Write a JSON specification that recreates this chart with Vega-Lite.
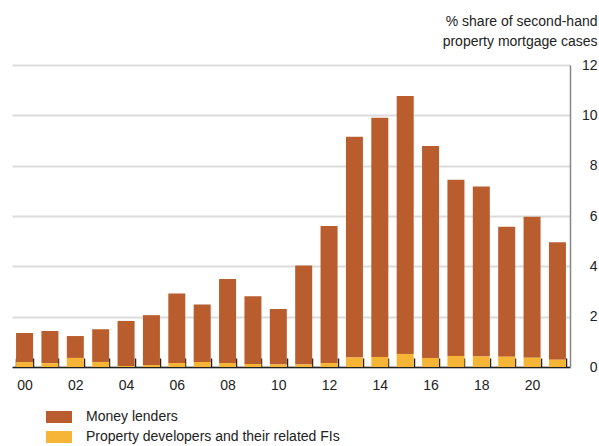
{
  "$schema": "https://vega.github.io/schema/vega-lite/v6.json",
  "width": 558,
  "height": 302,
  "autosize": "none",
  "padding": {"left": 12, "top": 65, "right": 29, "bottom": 79},
  "background": "white",
  "config": {"font": "Liberation Sans", "view": {"stroke": null}},
  "data": {"values": [
    {"yr": "00", "series": "Money lenders", "value": 1.15},
    {"yr": "00", "series": "Property developers and their related FIs", "value": 0.2},
    {"yr": "01", "series": "Money lenders", "value": 1.28},
    {"yr": "01", "series": "Property developers and their related FIs", "value": 0.15},
    {"yr": "02", "series": "Money lenders", "value": 0.87},
    {"yr": "02", "series": "Property developers and their related FIs", "value": 0.36},
    {"yr": "03", "series": "Money lenders", "value": 1.3},
    {"yr": "03", "series": "Property developers and their related FIs", "value": 0.2},
    {"yr": "04", "series": "Money lenders", "value": 1.79},
    {"yr": "04", "series": "Property developers and their related FIs", "value": 0.04},
    {"yr": "05", "series": "Money lenders", "value": 1.98},
    {"yr": "05", "series": "Property developers and their related FIs", "value": 0.08},
    {"yr": "06", "series": "Money lenders", "value": 2.76},
    {"yr": "06", "series": "Property developers and their related FIs", "value": 0.16},
    {"yr": "07", "series": "Money lenders", "value": 2.28},
    {"yr": "07", "series": "Property developers and their related FIs", "value": 0.2},
    {"yr": "08", "series": "Money lenders", "value": 3.34},
    {"yr": "08", "series": "Property developers and their related FIs", "value": 0.16},
    {"yr": "09", "series": "Money lenders", "value": 2.69},
    {"yr": "09", "series": "Property developers and their related FIs", "value": 0.12},
    {"yr": "10", "series": "Money lenders", "value": 2.2},
    {"yr": "10", "series": "Property developers and their related FIs", "value": 0.1},
    {"yr": "11", "series": "Money lenders", "value": 3.93},
    {"yr": "11", "series": "Property developers and their related FIs", "value": 0.1},
    {"yr": "12", "series": "Money lenders", "value": 5.44},
    {"yr": "12", "series": "Property developers and their related FIs", "value": 0.16},
    {"yr": "13", "series": "Money lenders", "value": 8.77},
    {"yr": "13", "series": "Property developers and their related FIs", "value": 0.38},
    {"yr": "14", "series": "Money lenders", "value": 9.5},
    {"yr": "14", "series": "Property developers and their related FIs", "value": 0.4},
    {"yr": "15", "series": "Money lenders", "value": 10.25},
    {"yr": "15", "series": "Property developers and their related FIs", "value": 0.52},
    {"yr": "16", "series": "Money lenders", "value": 8.42},
    {"yr": "16", "series": "Property developers and their related FIs", "value": 0.36},
    {"yr": "17", "series": "Money lenders", "value": 7.0},
    {"yr": "17", "series": "Property developers and their related FIs", "value": 0.44},
    {"yr": "18", "series": "Money lenders", "value": 6.75},
    {"yr": "18", "series": "Property developers and their related FIs", "value": 0.42},
    {"yr": "19", "series": "Money lenders", "value": 5.16},
    {"yr": "19", "series": "Property developers and their related FIs", "value": 0.41},
    {"yr": "20", "series": "Money lenders", "value": 5.6},
    {"yr": "20", "series": "Property developers and their related FIs", "value": 0.37},
    {"yr": "21", "series": "Money lenders", "value": 4.67},
    {"yr": "21", "series": "Property developers and their related FIs", "value": 0.29}
  ]},
  "mark": {"type": "bar"},
  "encoding": {
    "x": {
      "field": "yr", "type": "ordinal",
      "scale": {"paddingInner": 0.33, "paddingOuter": 0.16},
      "axis": {
        "title": null,
        "labelAngle": 0,
        "labelExpr": "parseInt(datum.value) % 2 == 0 ? datum.value : ''",
        "labelFontSize": 14,
        "labelColor": "#222",
        "labelPadding": 20,
        "tickBand": "extent",
        "tickSize": -9,
        "tickColor": "#222",
        "tickWidth": 1.5,
        "domainColor": "#222",
        "domainWidth": 1.5
      }
    },
    "y": {
      "field": "value", "type": "quantitative", "stack": "zero",
      "scale": {"domain": [0, 12]},
      "axis": {
        "orient": "right",
        "values": [0, 2, 4, 6, 8, 10, 12],
        "title": ["% share of second-hand", "property mortgage cases"],
        "titleAngle": 0,
        "titleAlign": "right",
        "titleBaseline": "alphabetic",
        "titleFontWeight": "normal",
        "titleFontSize": 14,
        "titleColor": "#222",
        "titleLineHeight": 20,
        "titleX": 27,
        "titleY": -40,
        "labelAlign": "right",
        "labelPadding": 27,
        "labelFontSize": 14,
        "labelColor": "#222",
        "ticks": false,
        "domainColor": "#888",
        "domainWidth": 1.5,
        "grid": true,
        "gridColor": "#dcdcdc",
        "gridWidth": 2
      }
    },
    "color": {
      "field": "series", "type": "nominal",
      "scale": {
        "domain": ["Money lenders", "Property developers and their related FIs"],
        "range": ["#B95D2E", "#F6B536"]
      },
      "legend": {
        "title": null,
        "orient": "none",
        "legendX": 34,
        "legendY": 339,
        "direction": "vertical",
        "symbolType": "M-1,-0.46H1V0.46H-1Z",
        "symbolSize": 676,
        "symbolStrokeWidth": 0,
        "labelFontSize": 14,
        "labelColor": "#222",
        "labelOffset": 14,
        "rowPadding": -4,
        "labelLimit": 400
      }
    },
    "order": {"field": "series", "sort": "descending"}
  }
}
